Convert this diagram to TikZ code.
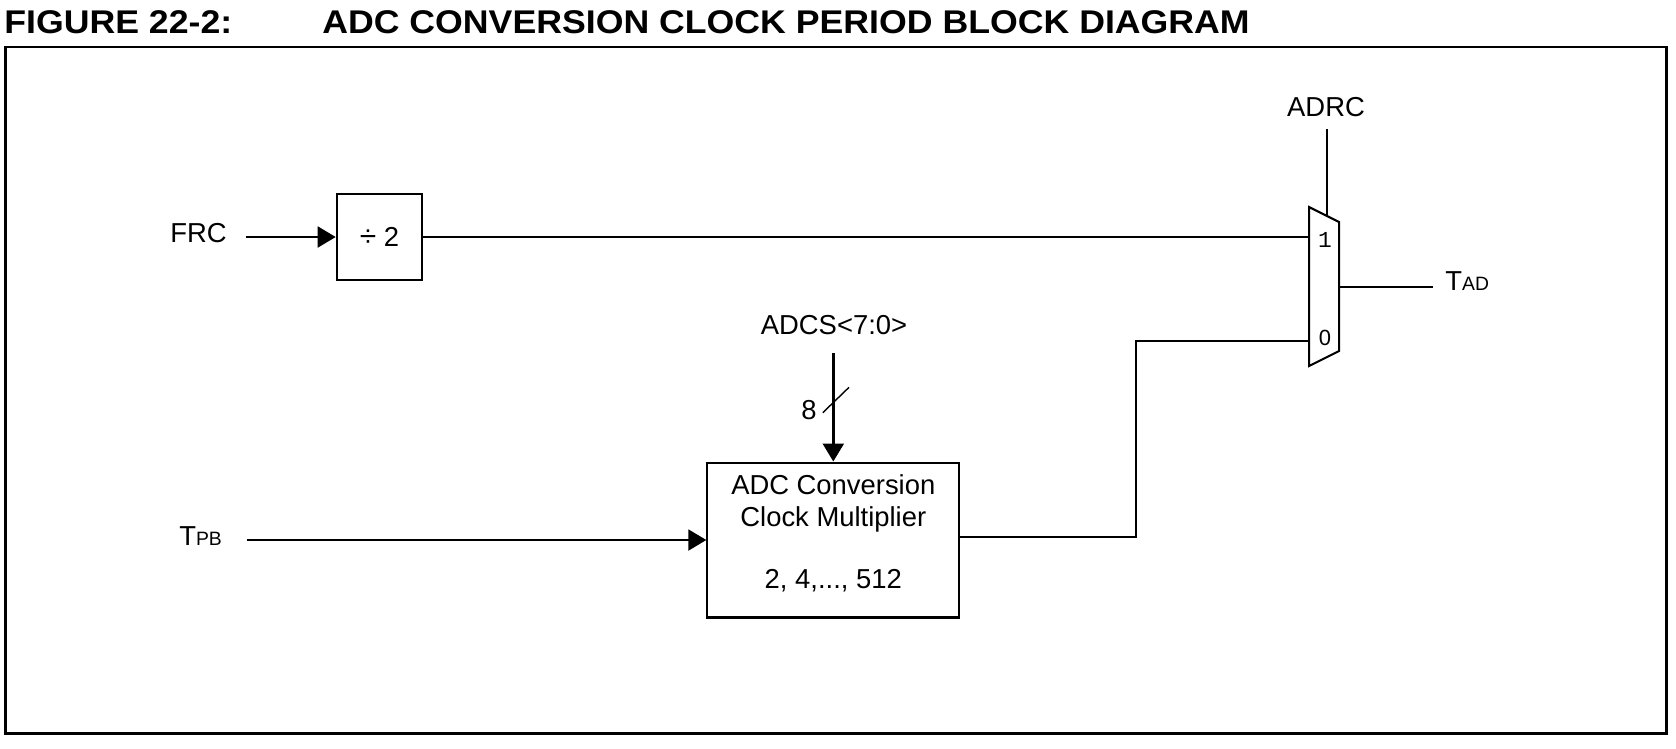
\documentclass[tikz,border=0pt]{standalone}
\usepackage{graphicx}
\usepackage{fontspec}
\setmainfont{Liberation Sans}
\setmonofont{Liberation Mono}
\usetikzlibrary{arrows.meta, positioning, calc}
\newcommand{\sigfont}{\fontsize{15.6}{18.2}\selectfont}
\newcommand{\subsc}[1]{{\fontsize{11}{13}\selectfont #1}}
\tikzset{
  wire/.style={line width=1.15pt},
  sigarrow/.style={wire, -{Triangle[length=0.36cm, width=0.42cm]}},
  blockbox/.style={draw, line width=1.15pt, inner sep=0pt, align=center, font=\sigfont},
  siglabel/.style={inner sep=0pt, font=\sigfont},
  muxpin/.style={inner sep=0pt, font=\fontsize{12.5}{15}\selectfont},
  titletext/.style={inner sep=0pt, anchor=base west, font=\bfseries\fontsize{20.3}{24}\selectfont},
}

\begin{document}
\begin{tikzpicture}[x=0.02cm, y=-0.02cm]
  \useasboundingbox (0,0) rectangle (1676,748);
  % title and frame
  \node[titletext] (fignum) at (4,33.3) {\scalebox{1}[0.92]{FIGURE 22-2:}};
  \node[titletext] (figtitle) at (322,33.3) {\scalebox{1}[0.92]{ADC CONVERSION CLOCK PERIOD BLOCK DIAGRAM}};
  \draw[line width=1.5pt] (5.3,47) rectangle (1666.7,733.3);

  % blocks
  \node[blockbox, minimum width=1.712cm, minimum height=1.72cm] (div) at (379.5,237) {{\fontsize{17}{18}\selectfont ÷} 2};
  \node[blockbox, minimum width=5.04cm, minimum height=3.1cm] (mult) at (833.3,540) {};
  \node[siglabel, align=center] (multtext) at (833.3,533)
    {ADC Conversion\\Clock Multiplier\\[0.6cm]2, 4,..., 512};

  % mux
  \coordinate (muxtl) at (1309,207);
  \coordinate (muxtr) at (1339,222);
  \coordinate (muxbr) at (1339,351);
  \coordinate (muxbl) at (1309,366);
  \draw[wire] (muxtl) -- (muxtr) -- (muxbr) -- (muxbl) -- cycle;
  \coordinate (mux1) at (1309,237);
  \coordinate (mux0) at (1309,341);
  \coordinate (muxout) at (1339,287);
  \coordinate (muxsel) at (1327,216);
  \node[muxpin, font=\ttfamily\fontsize{13}{15}\selectfont] (pin1) at (1325,240) {1};
  \node[muxpin] (pin0) at (1325,338) {0};

  % FRC path
  \node[siglabel] (frc) at (198.5,233) {FRC};
  \coordinate (frcin) at (246,237);
  \draw[sigarrow] (frcin) -- (div);
  \draw[wire] (div.east) -- (mux1);

  % select and output
  \node[siglabel] (adrc) at (1326,107) {ADRC};
  \coordinate (adrcin) at (1327,129);
  \draw[wire] (adrcin) -- (muxsel);
  \coordinate (tadend) at (1433,287);
  \draw[wire] (muxout) -- (tadend);
  \node[siglabel, anchor=west] (tad) at (1445,281) {T\subsc{AD}};

  % ADCS bus
  \node[siglabel] (adcs) at (834,325) {ADCS<7:0>};
  \coordinate (adcsin) at (833.3,353);
  \draw[sigarrow, line width=1.5pt] (adcsin) -- (mult.north);
  \coordinate (bus) at (835.8,400);
  \draw[line width=0.8pt] ($(bus)+(-13,12.7)$) -- ($(bus)+(13.2,-12.7)$);
  \node[siglabel] (buswidth) at (809,410) {8};

  % TPB path
  \node[siglabel, anchor=west] (tpb) at (179,536) {T\subsc{PB}};
  \coordinate (tpbin) at (246.7,540);
  \draw[sigarrow] (tpbin) -- (mult);
  \draw[wire] ([yshift=0.06cm]mult.east) -- ++(175.7,0) |- (mux0);
\end{tikzpicture}
\end{document}
